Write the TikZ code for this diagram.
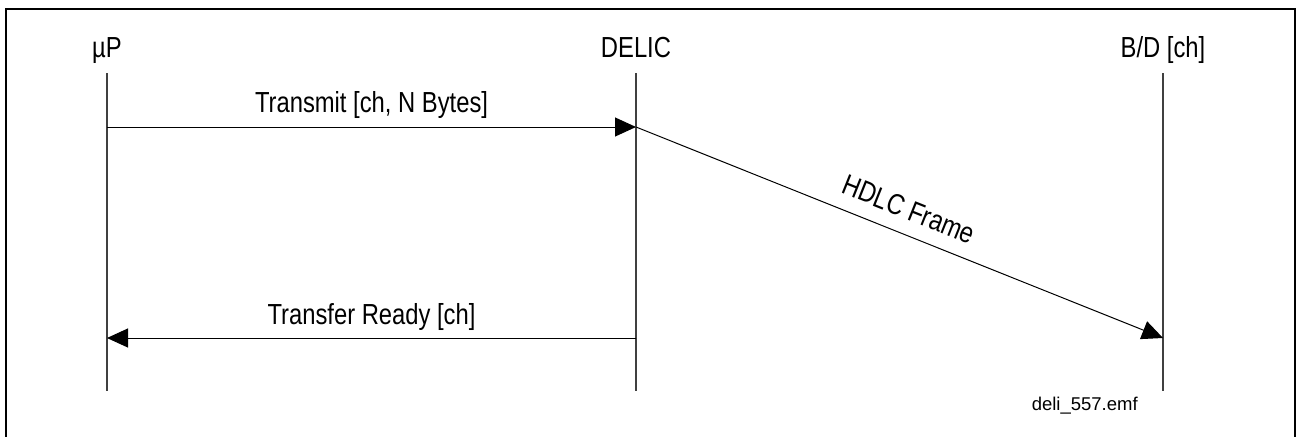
\documentclass[tikz,border=0pt]{standalone}
\usepackage{fontspec}
\setmainfont{Liberation Sans}
\newfontfamily\narrowfont{Liberation Sans}[FakeStretch=0.82]
\usetikzlibrary{arrows.meta}
\tikzset{
  title/.style={font=\narrowfont\fontsize{29}{34}\selectfont, anchor=base, inner sep=0pt},
  lbl/.style={font=\narrowfont\fontsize{29}{34}\selectfont, anchor=base, inner sep=0pt},
  small/.style={font=\fontsize{18.5}{22}\selectfont, anchor=base, inner sep=0pt},
  life/.style={line width=1.1pt, black!75},
  msg/.style={line width=1pt, -{Triangle[length=21pt,width=19pt]}},
  frame/.style={line width=2.6pt}
}
\begin{document}
\begin{tikzpicture}[x=1pt,y=-1pt]
\useasboundingbox (0,0) rectangle (1297,436);
% frame (open at the bottom)
\draw[frame] (6,440) -- (6,9) -- (1295,9) -- (1295,440);
% lifeline titles
\node[title] (up) at (107,57) {µP};
\node[title] (delic) at (636,57) {DELIC};
\node[title] (bd) at (1163,57) {B/D [ch]};
% lifeline ends
\coordinate (upT) at (107,73);   \coordinate (upB) at (107,391);
\coordinate (deT) at (636,73);   \coordinate (deB) at (636,391);
\coordinate (bdT) at (1163,73);  \coordinate (bdB) at (1163,391);
\draw[life] (upT) -- (upB);
\draw[life] (deT) -- (deB);
\draw[life] (bdT) -- (bdB);
% message points
\coordinate (m1s) at (107,127);  \coordinate (m1e) at (636,127);
\coordinate (m2e) at (1163,338);
\coordinate (m3s) at (636,338);  \coordinate (m3e) at (107,338);
% messages
\draw[msg] (m1s) -- node[lbl, midway, yshift=15pt] (t1) {Transmit [ch, N Bytes]} (m1e);
\draw[msg] (m1e) -- (m2e);
\node[lbl, rotate=-21.8] (t2) at (905.1,218.6) {HDLC Frame};
\draw[msg] (m3s) -- node[lbl, midway, yshift=14pt] (t3) {Transfer Ready [ch]} (m3e);
% file name
\node[small] (fn) at (1084.7,410.7) {deli\_557.emf};
\end{tikzpicture}
\end{document}
